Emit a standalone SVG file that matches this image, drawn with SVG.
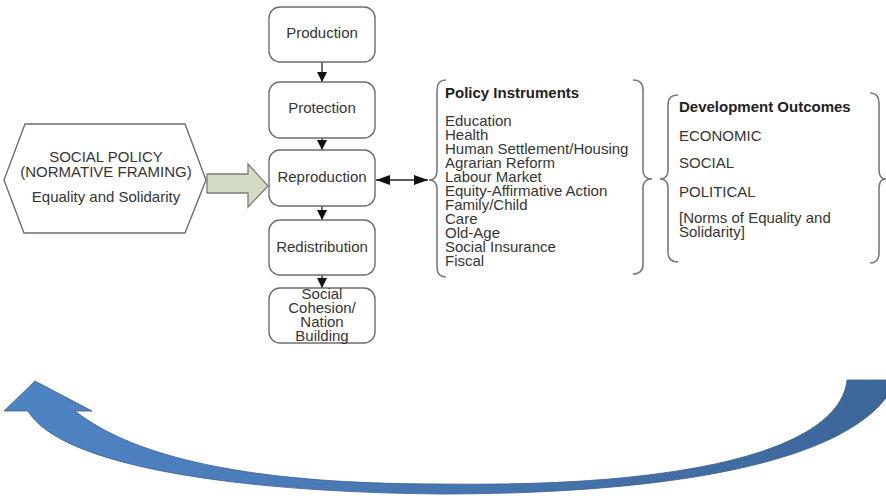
<svg xmlns="http://www.w3.org/2000/svg" width="886" height="499" viewBox="0 0 886 499">
<defs>
<style>
.t{font-family:"Liberation Sans",Arial,sans-serif;font-size:15px;fill:#353535}
.b{font-weight:bold;fill:#222}
.m{text-anchor:middle}
.box{fill:#fff;stroke:#6e6e6e;stroke-width:1.4}
.br{fill:none;stroke:#7a7a7a;stroke-width:1.6}
.ln{stroke:#222;stroke-width:1.3;fill:none}
</style>
<marker id="ah" viewBox="0 0 10 10" refX="10" refY="5" markerWidth="10" markerHeight="10" markerUnits="userSpaceOnUse" orient="auto-start-reverse">
<path d="M0,0 L10,5 L0,10 Z" fill="#111"/>
</marker>
<marker id="ah2" viewBox="0 0 14 10" refX="14" refY="5" markerWidth="14" markerHeight="10" markerUnits="userSpaceOnUse" orient="auto-start-reverse">
<path d="M0,0 L14,5 L0,10 Z" fill="#111"/>
</marker>
<linearGradient id="blue" x1="0" y1="0" x2="1" y2="0">
<stop offset="0" stop-color="#4f84c4"/>
<stop offset="0.5" stop-color="#4676b0"/>
<stop offset="1" stop-color="#3d6699"/>
</linearGradient>
</defs>
<rect width="886" height="499" fill="#fff"/>

<g id="connectors">
<line class="ln" x1="322" y1="62" x2="322" y2="82" marker-end="url(#ah)"/>
<line class="ln" x1="322" y1="138" x2="322" y2="150" marker-end="url(#ah)"/>
<line class="ln" x1="322" y1="206" x2="322" y2="220" marker-end="url(#ah)"/>
<line class="ln" x1="322" y1="275" x2="322" y2="288" marker-end="url(#ah)"/>
<line class="ln" x1="376" y1="180" x2="428" y2="180" marker-start="url(#ah2)" marker-end="url(#ah2)"/>
<path id="green-arrow" d="M207,174 L248,174 L248,164 L268,186 L248,207 L248,193 L207,193 Z" fill="#d3dcc3" stroke="#7b7b7b" stroke-width="1.3"/>
</g>

<g id="social-policy">
<polygon class="box" points="4,180 25,124 185,124 206,180 185,233 24,233"/>
<text class="t m" x="106" y="162">SOCIAL POLICY</text>
<text class="t m" x="106" y="177">(NORMATIVE FRAMING)</text>
<text class="t m" x="106" y="202">Equality and Solidarity</text>
</g>

<g id="production">
<rect class="box" x="269" y="7" width="106" height="55" rx="11"/>
<text class="t m" x="322" y="38">Production</text>
</g>
<g id="protection">
<rect class="box" x="269" y="82" width="106" height="56" rx="11"/>
<text class="t m" x="322" y="113">Protection</text>
</g>
<g id="reproduction">
<rect class="box" x="269" y="150" width="106" height="56" rx="11"/>
<text class="t m" x="322" y="182">Reproduction</text>
</g>
<g id="redistribution">
<rect class="box" x="269" y="220" width="106" height="55" rx="11"/>
<text class="t m" x="322" y="252">Redistribution</text>
</g>
<g id="social-cohesion">
<rect class="box" x="269" y="288" width="106" height="55" rx="11"/>
<text class="t m" x="322" y="299">Social</text>
<text class="t m" x="322" y="313">Cohesion/</text>
<text class="t m" x="322" y="327">Nation</text>
<text class="t m" x="322" y="341">Building</text>
</g>

<g id="policy-instruments">
<path class="br" d="M446,80 Q437,80 437,90 L437,170 Q437,180 429,180 Q437,180 437,189 L437,267 Q437,277 446,277"/>
<path class="br" d="M633,80 Q643,80 643,90 L643,170 Q643,179 652,179 Q643,179 643,188 L643,264 Q643,274 633,274"/>
<text class="t b" x="445" y="98">Policy Instruments</text>
<text class="t" x="445" y="126">Education</text>
<text class="t" x="445" y="140">Health</text>
<text class="t" x="445" y="154">Human Settlement/Housing</text>
<text class="t" x="445" y="168">Agrarian Reform</text>
<text class="t" x="445" y="182">Labour Market</text>
<text class="t" x="445" y="196">Equity-Affirmative Action</text>
<text class="t" x="445" y="210">Family/Child</text>
<text class="t" x="445" y="224">Care</text>
<text class="t" x="445" y="238">Old-Age</text>
<text class="t" x="445" y="252">Social Insurance</text>
<text class="t" x="445" y="266">Fiscal</text>
</g>

<g id="development-outcomes">
<path class="br" d="M678,95 Q668,95 668,105 L668,170 Q668,179 660,179 Q668,179 668,188 L668,252 Q668,262 678,262"/>
<path class="br" d="M870,93 Q879,93 879,103 L879,170 Q879,179 886,179 Q879,179 879,188 L879,253 Q879,263 870,263"/>
<text class="t b" x="679" y="112">Development Outcomes</text>
<text class="t" x="679" y="141">ECONOMIC</text>
<text class="t" x="679" y="168">SOCIAL</text>
<text class="t" x="679" y="197">POLITICAL</text>
<text class="t" x="679" y="223">[Norms of Equality and</text>
<text class="t" x="679" y="237">Solidarity]</text>
</g>

<g id="cycle-arrow">
<path d="M28,411 C60,465 230,492 440,494 C640,494 830,470 886,398 L886,380 L847,380 C843,420 790,450 700,467 C620,482 530,485 440,484 C300,484 150,470 75,411 L92,411 L35,381 L4,411 Z" fill="url(#blue)" stroke="#3a5f8f" stroke-width="0.8" stroke-linejoin="round"/>
</g>
</svg>
